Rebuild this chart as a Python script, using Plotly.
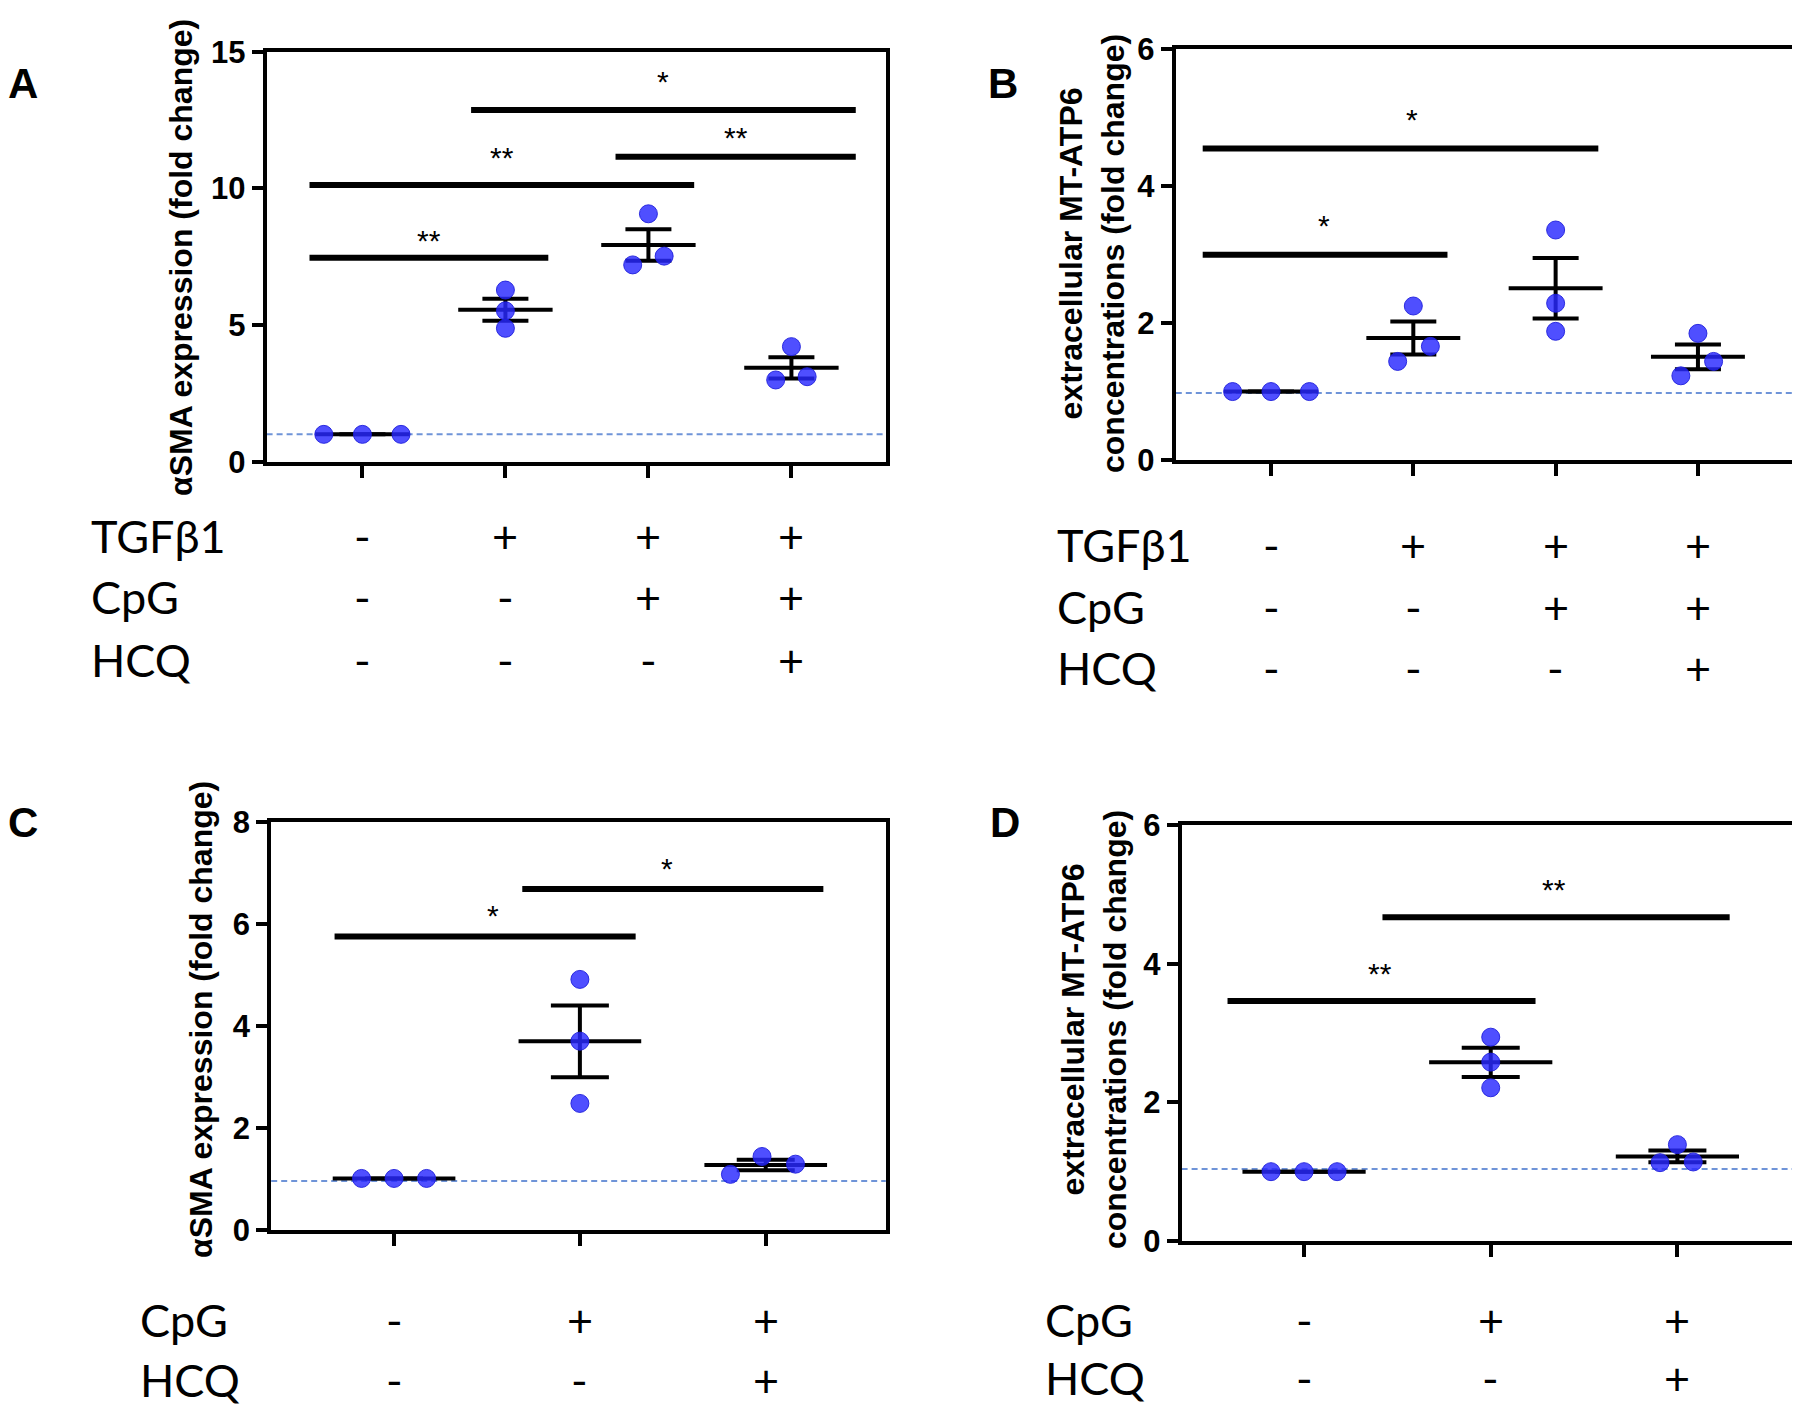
import numpy as np
import plotly.graph_objects as go

# ---------------- DATA ----------------
# Panel A: aSMA expression (fold change), 4 groups, n=3
A_values = [[1.00, 1.00, 1.00], [6.28, 5.52, 4.88], [9.07, 7.52, 7.20], [4.21, 2.99, 3.11]]
# Panel B: extracellular MT-ATP6 (fold change)
B_values = [[1.00, 1.00, 1.00], [2.25, 1.66, 1.44], [3.36, 2.29, 1.88], [1.85, 1.44, 1.23]]
# Panel C: aSMA expression (fold change), 3 groups
C_values = [[1.01, 1.01, 1.01], [4.91, 3.70, 2.48], [1.44, 1.29, 1.09]]
# Panel D: extracellular MT-ATP6 (fold change)
D_values = [[1.00, 1.00, 1.00], [2.94, 2.58, 2.21], [1.39, 1.14, 1.13]]

# reference (dashed) line values
A_baseline = 1.00
B_baseline = 0.98
C_baseline = 0.96
D_baseline = 1.04

# treatment table
AB_rows = ["TGFβ1", "CpG", "HCQ"]
AB_signs = [["-", "+", "+", "+"], ["-", "-", "+", "+"], ["-", "-", "-", "+"]]
CD_rows = ["CpG", "HCQ"]
CD_signs = [["-", "+", "+"], ["-", "-", "+"]]

# significance brackets: (start group, end group, y value, label)
A_sig = [(0.63, 2.30, 7.46, "**"), (0.63, 3.32, 10.12, "**"),
         (2.77, 4.45, 11.16, "**"), (1.76, 4.45, 12.87, "*")]
B_sig = [(0.52, 3.30, 4.55, "*"), (0.52, 2.24, 3.00, "*")]
C_sig = [(0.68, 2.30, 5.75, "*"), (1.69, 3.31, 6.68, "*")]
D_sig = [(0.59, 2.24, 3.46, "**"), (1.42, 3.28, 4.67, "**")]

A_title = "αSMA expression (fold change)"
B_title = "extracellular MT-ATP6<br>concentrations (fold change)"
C_title = "αSMA expression (fold change)"
D_title = "extracellular MT-ATP6<br>concentrations (fold change)"

# ---------------- STYLE / LAYOUT ----------------
W, H = 1800, 1407
PAGE_OFFSET = 8  # default <body> margin of the written html page
# horizontal scatter of points within a group (plot styling)
A_jit = [[-0.27, 0, 0.27], [0, 0, 0], [0, 0.11, -0.11], [0, -0.11, 0.11]]
B_jit = [[-0.27, 0, 0.27], [0, 0.12, -0.11], [0, 0, 0], [0, 0.11, -0.12]]
C_jit = [[-0.175, 0, 0.175], [0, 0, 0], [-0.02, 0.16, -0.19]]
D_jit = [[-0.177, 0, 0.177], [0, 0, 0], [0, 0.085, -0.093]]

panels = {
    "A": dict(vals=A_values, jit=A_jit, base=A_baseline, sig=A_sig, title=A_title,
              rows=AB_rows, signs=AB_signs,
              box=(266.6, 885.8, 51.7, 461.7), xr=[0.33, 4.66], yr=[0, 15], dtick=5, cap=23,
              title_xy=(181, 258), rows_x=89, rows_y=[536, 597, 660], letter_xy=(23, 83),
              star_dx=[0, 0, 0, 0], star_dy=[0.89, 1.28, 0.97, 1.28]),
    "B": dict(vals=B_values, jit=B_jit, base=B_baseline, sig=B_sig, title=B_title,
              rows=AB_rows, signs=AB_signs,
              box=(1175.8, 1793, 49.3, 460), xr=[0.331, 4.668], yr=[0, 6], dtick=2, cap=23,
              title_xy=(1092, 254), rows_x=1055, rows_y=[545, 607, 668], letter_xy=(1003, 83),
              star_dx=[0.08, -0.01], star_dy=[0.52, 0.53]),
    "C": dict(vals=C_values, jit=C_jit, base=C_baseline, sig=C_sig, title=C_title,
              rows=CD_rows, signs=CD_signs,
              box=(271.2, 885.8, 821.7, 1230), xr=[0.339, 3.646], yr=[0, 8], dtick=2, cap=29,
              title_xy=(201, 1020), rows_x=138, rows_y=[1320, 1380], letter_xy=(23, 822),
              star_dx=[0.045, -0.03], star_dy=[0.55, 0.54]),
    "D": dict(vals=D_values, jit=D_jit, base=D_baseline, sig=D_sig, title=D_title,
              rows=CD_rows, signs=CD_signs,
              box=(1181.6, 1795, 825, 1241), xr=[0.344, 3.63], yr=[0, 6], dtick=2, cap=29,
              title_xy=(1094, 1030), rows_x=1043, rows_y=[1320, 1378], letter_xy=(1005, 822),
              star_dx=[-0.01, -0.01], star_dy=[0.50, 0.50]),
}

TICK_FONT = dict(family="Liberation Sans, Arial, sans-serif", size=31, color="black", weight="bold")
TITLE_FONT = dict(family="Liberation Sans, Arial, sans-serif", size=32, color="black", weight="bold")
LABEL_FONT = dict(family="Lato, Carlito, sans-serif", size=45, color="black")
STAR_FONT = dict(family="Liberation Sans, Arial, sans-serif", size=30, color="black")
LETTER_FONT = dict(family="Liberation Sans, Arial, sans-serif", size=42, color="black", weight="bold")
POINT_COLOR = "rgba(40,40,255,0.82)"
DASH_COLOR = "#6f94d8"


def px(x):
    return (x - PAGE_OFFSET) / W


def py(y):
    return 1 - (y - PAGE_OFFSET) / H


fig = go.Figure()
annotations = []
shapes = []
layout_axes = {}

for i, (key, p) in enumerate(panels.items()):
    sfx = "" if i == 0 else str(i + 1)
    xa, ya = "x" + sfx, "y" + sfx
    x0, x1, y0, y1 = p["box"]
    ngroups = len(p["vals"])
    positions = list(range(1, ngroups + 1))

    layout_axes["xaxis" + sfx] = dict(
        domain=[px(x0), px(x1)], range=p["xr"], anchor=ya, tickvals=positions,
        showticklabels=False, ticks="outside", ticklen=12, tickwidth=4, tickcolor="black",
        showline=True, linewidth=4, linecolor="black", mirror=True, automargin=False,
        showgrid=False, zeroline=False, fixedrange=True)
    layout_axes["yaxis" + sfx] = dict(
        domain=[py(y1), py(y0)], range=p["yr"], anchor=xa, dtick=p["dtick"], tick0=0,
        ticks="outside", ticklen=11, tickwidth=4, tickcolor="black", tickfont=TICK_FONT,
        showline=True, linewidth=4, linecolor="black", mirror=True, automargin=False,
        showgrid=False, zeroline=False, fixedrange=True)

    # dashed reference line
    shapes.append(dict(type="line", xref=xa + " domain", yref=ya, x0=0, x1=1,
                       y0=p["base"], y1=p["base"],
                       line=dict(color=DASH_COLOR, width=2, dash="6px,4px"), layer="below"))

    # mean lines + SEM error bars
    for g, vals in zip(positions, p["vals"]):
        arr = np.array(vals, dtype=float)
        m = arr.mean()
        sem = arr.std(ddof=1) / np.sqrt(len(arr))
        fig.add_trace(go.Scatter(x=[g - 0.33, g + 0.33], y=[m, m], mode="lines",
                                 line=dict(color="black", width=4), xaxis=xa, yaxis=ya,
                                 showlegend=False, hoverinfo="skip"))
        fig.add_trace(go.Scatter(x=[g], y=[m], mode="markers",
                                 marker=dict(size=1, color="rgba(0,0,0,0)"),
                                 error_y=dict(type="data", array=[sem], visible=True,
                                              color="black", thickness=4, width=p["cap"]),
                                 xaxis=xa, yaxis=ya, showlegend=False, hoverinfo="skip"))

    # individual points
    xs, ys = [], []
    for g, vals, jit in zip(positions, p["vals"], p["jit"]):
        for v, j in zip(vals, jit):
            xs.append(g + j)
            ys.append(v)
    fig.add_trace(go.Scatter(x=xs, y=ys, mode="markers",
                             marker=dict(size=18, color=POINT_COLOR,
                                         line=dict(width=1, color="rgba(30,30,220,0.9)")),
                             xaxis=xa, yaxis=ya, showlegend=False))

    # significance brackets
    for (s, e, yv, lab), dx, dy in zip(p["sig"], p["star_dx"], p["star_dy"]):
        shapes.append(dict(type="line", xref=xa, yref=ya, x0=s, x1=e, y0=yv, y1=yv,
                           line=dict(color="black", width=6)))
        annotations.append(dict(text=lab, xref=xa, yref=ya, x=(s + e) / 2 + dx, y=yv + dy,
                                showarrow=False, font=STAR_FONT, xanchor="center",
                                yanchor="middle", yshift=-7))

    # y-axis title
    tx, ty = p["title_xy"]
    annotations.append(dict(text=p["title"], xref="paper", yref="paper", x=px(tx), y=py(ty),
                            showarrow=False, textangle=-90, font=TITLE_FONT,
                            xanchor="center", yanchor="middle", align="center"))

    # panel letter
    lx, ly = p["letter_xy"]
    annotations.append(dict(text=key, xref="paper", yref="paper", x=px(lx), y=py(ly),
                            showarrow=False, font=LETTER_FONT, xanchor="center", yanchor="middle"))

    # treatment table
    for r, (rname, signs) in enumerate(zip(p["rows"], p["signs"])):
        yy = py(p["rows_y"][r])
        annotations.append(dict(text=rname, xref="paper", yref="paper", x=px(p["rows_x"]), y=yy,
                                showarrow=False, font=LABEL_FONT, xanchor="left", yanchor="middle"))
        for g, sgn in zip(positions, signs):
            annotations.append(dict(text=sgn, xref=xa, yref="paper", x=g, y=yy,
                                    showarrow=False, font=LABEL_FONT, xanchor="center",
                                    yanchor="middle"))

fig.update_layout(width=W, height=H, margin=dict(l=0, r=0, t=0, b=0),
                  paper_bgcolor="white", plot_bgcolor="white",
                  showlegend=False, annotations=annotations, shapes=shapes, **layout_axes)

fig.write_html("out.html")
